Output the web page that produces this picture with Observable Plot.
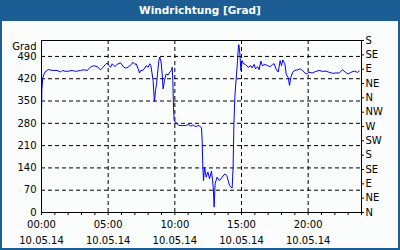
<!DOCTYPE html>
<html>
<head>
<meta charset="utf-8">
<script src="https://cdn.jsdelivr.net/npm/d3@7"></script>
<script src="https://cdn.jsdelivr.net/npm/@observablehq/plot@0.6"></script>
<style>
  html, body { margin: 0; padding: 0; background: #ffffff; }
  #outer { position: relative; width: 400px; height: 250px; background: #1c5e94; overflow: hidden; }
  #title { position: absolute; left: 0; top: 0; width: 400px; height: 21px; line-height: 20px; text-align: center;
           color: #ffffff; font-family: "DejaVu Sans", sans-serif; font-weight: bold; font-size: 10.5px; }
  #inner { position: absolute; left: 2px; top: 21px; width: 396px; height: 227px; background: #fafdfb; }
  #inner svg { display: block; }
</style>
</head>
<body>
<div id="outer">
  <div id="title">Windrichtung [Grad]</div>
  <div id="inner"></div>
</div>
<script>
const titleText = "Windrichtung [Grad]";
const yUnit = "Grad";
const dateLabel = "10.05.14";

// time in hours since 00:00, wind direction in degrees (continuous, may exceed 360)
const hours = [
  0.00, 0.03, 0.10, 0.25, 0.50, 0.80, 1.17, 1.43, 1.55, 1.80, 2.05, 2.30, 2.55, 2.93, 3.17, 3.42, 3.67, 3.92,
  4.17, 4.43, 4.62, 4.80, 4.92, 5.05, 5.17, 5.30, 5.50, 5.67, 5.93, 6.17, 6.35, 6.55, 6.75, 6.85, 7.00, 7.10,
  7.25, 7.35, 7.45, 7.60, 7.75, 7.85, 8.00, 8.12, 8.20, 8.30, 8.37, 8.47, 8.55, 8.63, 8.70, 8.80, 8.87, 8.97,
  9.05, 9.12, 9.22, 9.35, 9.50, 9.62, 9.75, 9.80, 9.85, 9.90, 9.95, 10.05, 10.30, 10.55, 10.80, 11.05, 11.20,
  11.35, 11.55, 11.80, 12.00, 12.05, 12.10, 12.15, 12.23, 12.35, 12.48, 12.60, 12.75, 12.88, 12.95, 13.02,
  13.17, 13.35, 13.55, 13.75, 13.90, 14.10, 14.20, 14.30, 14.37, 14.43, 14.50, 14.55, 14.63, 14.70, 14.75,
  14.80, 14.88, 14.95, 15.05, 15.15, 15.30, 15.50, 15.70, 15.80, 15.95, 16.05, 16.20, 16.32, 16.45, 16.57,
  16.75, 16.95, 17.15, 17.33, 17.45, 17.58, 17.75, 17.90, 18.00, 18.10, 18.25, 18.35, 18.50, 18.60, 18.70,
  18.83, 19.00, 19.20, 19.40, 19.57, 19.70, 19.88, 20.07, 20.30, 20.58, 20.83, 21.08, 21.33, 21.58, 21.83,
  22.08, 22.33, 22.58, 22.80, 23.00, 23.20, 23.45, 23.70, 23.83
];
const degrees = [
  310, 388, 425, 440, 449, 446, 446, 441, 446, 443, 444, 446, 443, 446, 448, 446, 456, 461,
  458, 448, 456, 465, 469, 462, 456, 467, 458, 465, 470, 456, 453, 458, 465, 472, 465, 467,
  451, 438, 446, 446, 454, 461, 456, 467, 461, 435, 414, 347, 383, 404, 435, 477, 488, 472,
  435, 388, 414, 435, 432, 441, 446, 456, 414, 330, 289, 284, 273, 273, 273, 276, 271,
  275, 270, 273, 266, 226, 142, 100, 142, 111, 127, 106, 130, 80, 17, 90,
  111, 100, 111, 121, 116, 85, 80, 77, 142, 278, 362, 394, 435, 477, 509,
  527, 498, 446, 477, 467, 465, 456, 461, 454, 465, 451, 458, 448, 475, 461,
  465, 461, 458, 465, 467, 451, 441, 477, 461, 479, 467, 435, 424, 399, 424,
  440, 446, 448, 451, 446, 440, 435, 440, 438, 443, 446, 443, 444, 440, 437,
  438, 438, 448, 440, 435, 440, 444, 440, 444
];

const leftTicks = [0, 70, 140, 210, 280, 350, 420, 490];
const gridTicks = [70, 140, 210, 280, 350, 420, 490];
const compassTicks = [0, 45, 90, 135, 180, 225, 270, 315, 360, 405, 450, 495, 540];
const compassLabels = ["N", "NE", "E", "SE", "S", "SW", "W", "NW", "N", "NE", "E", "SE", "S"];
const hourTicks = [0,1,2,3,4,5,6,7,8,9,10,11,12,13,14,15,16,17,18,19,20,21,22,23,24];
const majorHours = [0, 5, 10, 15, 20];
const timeLabels = ["00:00", "05:00", "10:00", "15:00", "20:00"];

document.getElementById("title").textContent = titleText;

const data = hours.map((h, i) => ({h, v: degrees[i]}));

const chart = Plot.plot({
  width: 396,
  height: 227,
  marginLeft: 39,
  marginRight: 37,
  marginTop: 19,
  marginBottom: 36,
  style: {fontFamily: "DejaVu Sans, sans-serif", fontSize: "10px", background: "transparent", color: "#000000"},
  x: {domain: [0, 24]},
  y: {domain: [0, 540]},
  marks: [
    Plot.ruleY(gridTicks, {y: d => d, stroke: "#000000", strokeDasharray: "4,3"}),
    Plot.ruleX(majorHours.slice(1), {x: d => d, stroke: "#000000", strokeDasharray: "4,3"}),
    Plot.line(data, {x: "h", y: "v", stroke: "#0000ff", strokeWidth: 1}),
    Plot.frame({stroke: "#000000"}),
    Plot.axisY(leftTicks, {anchor: "left", tickSize: 0, tickPadding: 5, label: null, fill: "#000000"}),
    Plot.axisY(compassTicks, {anchor: "right", tickSize: 2, tickPadding: 2, label: null,
      tickFormat: d => compassLabels[compassTicks.indexOf(d)], fill: "#000000"}),
    Plot.axisX(hourTicks, {anchor: "bottom", tickSize: 3, tickFormat: () => "", label: null}),
    Plot.axisX(majorHours, {anchor: "bottom", tickSize: 0, tickPadding: 8, label: null,
      tickFormat: d => timeLabels[majorHours.indexOf(d)], fill: "#000000"}),
    Plot.axisX(majorHours, {anchor: "bottom", tickSize: 0, tickPadding: 24, label: null,
      tickFormat: () => dateLabel, fill: "#000000"}),
    Plot.text([yUnit], {text: d => d, frameAnchor: "top-left", textAnchor: "end", lineAnchor: "middle", dx: -5, dy: 6, fill: "#000000"})
  ]
});
document.getElementById("inner").appendChild(chart);
</script>
</body>
</html>
